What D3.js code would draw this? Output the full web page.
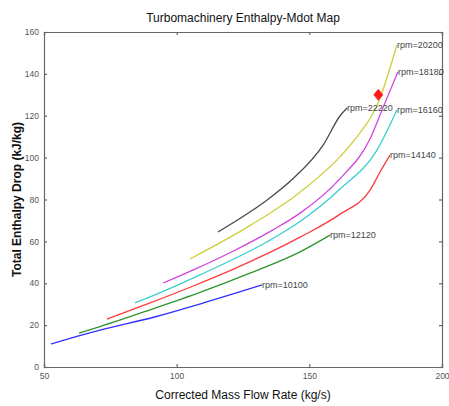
<!DOCTYPE html>
<html>
<head>
<meta charset="utf-8">
<script src="https://cdn.jsdelivr.net/npm/d3@7"></script>
<style>
  body { margin: 0; background: #fff; }
  text { font-family: "Liberation Sans", Arial, sans-serif; }
</style>
</head>
<body>
<div id="chart"></div>
<script>
let w = 449, h = 406;
let margin = {left: 44, right: 7, top: 32, bottom: 39};

// speed lines (mass flow kg/s, enthalpy drop kJ/kg)
let rpms = ["10100", "12120", "14140", "16160", "18180", "20200", "22220"];
let colors = ["#2f2fff", "#2e952e", "#ff3a3a", "#3ccfcf", "#cf45dd", "#cfcf3a", "#4a4a4a"];
let rpm10100 = [[52.6, 11.0], [62.4, 14.6], [71.1, 17.6], [92, 24.0], [109, 30.2], [132.2, 39.2]];
let rpm12120 = [[63.2, 16.2], [71.1, 19.3], [90, 27.3], [108.8, 35.6], [127.6, 44.8], [146.5, 55.0], [157.8, 63.0]];
let rpm14140 = [[73.7, 22.9], [90, 30.6], [106.5, 38.8], [121.2, 46.6], [146.5, 62.0], [161.6, 73.0], [172.9, 84.5], [176.6, 93.0], [180.4, 101.2]];
let rpm16160 = [[84.3, 30.6], [90, 33.5], [108.8, 44.0], [134.1, 59.8], [145.4, 68.5], [161.6, 85.0], [175.5, 103.6], [183.0, 122.7]];
let rpm18180 = [[94.9, 40.1], [106.5, 46.5], [121.2, 55.3], [136.3, 65.5], [146.5, 73.5], [161.6, 90.0], [172.9, 109.0], [177.8, 124.0], [183.4, 141.0]];
let rpm20200 = [[105.0, 51.6], [127.6, 67.5], [146.5, 83.5], [161.6, 100.5], [168.0, 110.0], [175.9, 126.0], [183.0, 153.8]];
let rpm22220 = [[115.6, 64.5], [127.6, 74.0], [134.1, 79.8], [143.9, 90.0], [155.2, 106.0], [161.6, 120.0], [164.2, 123.7]];
let designPoint = [176, 130];

let xTicks = [50, 100, 150, 200];
let yTicks = [0, 20, 40, 60, 80, 100, 120, 140, 160];

let series = [rpm10100, rpm12120, rpm14140, rpm16160, rpm18180, rpm20200, rpm22220];

let svg = d3.select("#chart").append("svg")
    .attr("width", w)
    .attr("height", h);
svg.append("rect")
    .attr("width", w)
    .attr("height", h)
    .attr("fill", "#fff");

let x = d3.scaleLinear().domain([50, 200]).range([margin.left, w - margin.right]);
let y = d3.scaleLinear().domain([0, 160]).range([h - margin.bottom, margin.top]);

// axes, matlab style: ticks pointing in, on all four sides
let axisColor = "#666";
let xAxis = svg.append("g")
    .attr("transform", `translate(0, ${y(0)})`)
    .call(d3.axisBottom(x).tickValues(xTicks).tickSize(-3).tickPadding(6));
let xTop = svg.append("g")
    .attr("transform", `translate(0, ${y(160)})`)
    .call(d3.axisTop(x).tickValues(xTicks).tickSize(-3).tickFormat(""));
let yAxis = svg.append("g")
    .attr("transform", `translate(${x(50)}, 0)`)
    .call(d3.axisLeft(y).tickValues(yTicks).tickSize(-3).tickPadding(5));
let yRight = svg.append("g")
    .attr("transform", `translate(${x(200)}, 0)`)
    .call(d3.axisRight(y).tickValues(yTicks).tickSize(-3).tickFormat(""));

[xAxis, xTop, yAxis, yRight].forEach(g => {
    g.selectAll("path").attr("stroke", axisColor).attr("stroke-width", 1.2);
    g.selectAll("line").attr("stroke", axisColor).attr("stroke-width", 1.2);
    g.selectAll("text")
        .attr("fill", "#555")
        .style("font-size", "8.5px")
        .style("font-family", "'Liberation Sans Narrow', 'Liberation Sans', Arial, sans-serif");
});

let line = d3.line()
    .x(d => x(d[0]))
    .y(d => y(d[1]))
    .curve(d3.curveMonotoneX);

svg.selectAll(".speed")
    .data(series)
    .enter()
    .append("path")
    .attr("class", "speed")
    .attr("d", line)
    .attr("fill", "none")
    .attr("stroke", (d, i) => colors[i])
    .attr("stroke-width", 1.3);

svg.selectAll(".rpmLabel")
    .data(series)
    .enter()
    .append("text")
    .attr("class", "rpmLabel")
    .attr("x", d => x(d[d.length - 1][0]))
    .attr("y", d => y(d[d.length - 1][1]))
    .attr("dy", "0.35em")
    .attr("fill", "#444")
    .style("font-size", "9px")
    .style("font-family", "'Liberation Sans Narrow', 'Liberation Sans', Arial, sans-serif")
    .text((d, i) => "rpm=" + rpms[i]);

// design point marker
svg.append("path")
    .attr("d", "M0,-5.5L4.5,0L0,5.5L-4.5,0Z")
    .attr("transform", `translate(${x(designPoint[0])}, ${y(designPoint[1])})`)
    .attr("fill", "#ff1a1a")
    .attr("stroke", "#ff1a1a")
    .attr("stroke-width", 0.8);

svg.append("text")
    .attr("x", (x(50) + x(200)) / 2)
    .attr("y", 22)
    .attr("text-anchor", "middle")
    .attr("fill", "#111")
    .style("font-size", "12px")
    .text("Turbomachinery Enthalpy-Mdot Map");

svg.append("text")
    .attr("x", (x(50) + x(200)) / 2)
    .attr("y", 399)
    .attr("text-anchor", "middle")
    .attr("fill", "#111")
    .style("font-size", "12px")
    .text("Corrected Mass Flow Rate (kg/s)");

svg.append("text")
    .attr("transform", `translate(21, ${(y(0) + y(160)) / 2}) rotate(-90)`)
    .attr("text-anchor", "middle")
    .attr("fill", "#111")
    .style("font-size", "12px")
    .style("font-weight", "bold")
    .text("Total Enthalpy Drop (kJ/kg)");
</script>
</body>
</html>
